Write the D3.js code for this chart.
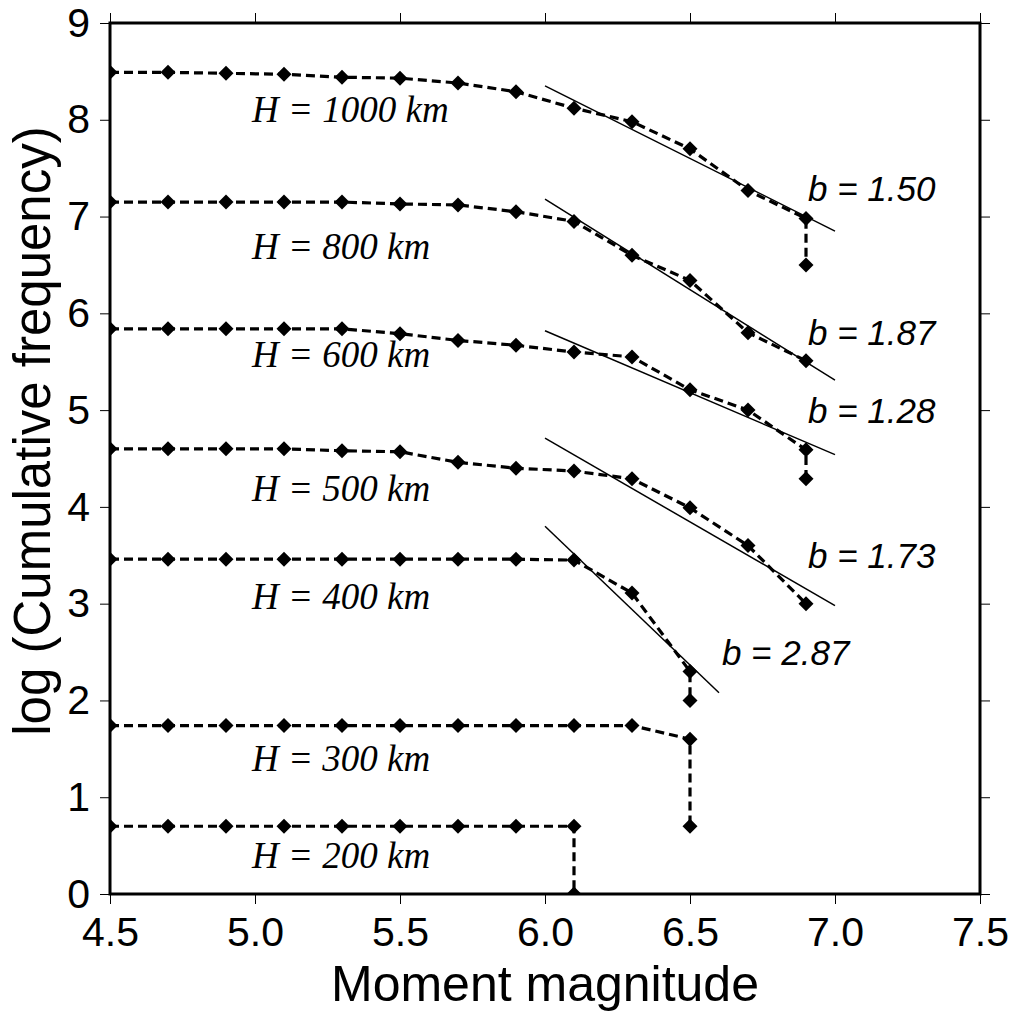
<!DOCTYPE html>
<html>
<head>
<meta charset="utf-8">
<script src="https://cdn.jsdelivr.net/npm/d3@7"></script>
<style>
  body { margin: 0; background: #fff; }
  .tick text { font-family: "Liberation Sans", Arial, sans-serif; font-size: 41px; fill: #000; }
</style>
</head>
<body>
<div id="chart"></div>
<script>
// magnitude bins (left edge of each cumulative bin)
var mags = [4.5, 4.7, 4.9, 5.1, 5.3, 5.5, 5.7, 5.9, 6.1, 6.3, 6.5, 6.7, 6.9];

var depths = ["1000", "800", "600", "500", "400", "300", "200"];

// log cumulative frequency per depth, one value per magnitude bin
var freq1000 = [8.49, 8.49, 8.48, 8.47, 8.44, 8.43, 8.38, 8.29, 8.12, 7.98, 7.70, 7.27, 6.98];
var freq800  = [7.15, 7.15, 7.15, 7.15, 7.15, 7.13, 7.12, 7.05, 6.95, 6.60, 6.34, 5.80, 5.51];
var freq600  = [5.84, 5.84, 5.84, 5.84, 5.84, 5.79, 5.72, 5.67, 5.60, 5.55, 5.21, 5.00, 4.59];
var freq500  = [4.60, 4.60, 4.60, 4.60, 4.58, 4.57, 4.46, 4.40, 4.37, 4.29, 3.99, 3.60, 3.00];
var freq400  = [3.46, 3.46, 3.46, 3.46, 3.46, 3.46, 3.46, 3.46, 3.45, 3.11, 2.30];
var freq300  = [1.74, 1.74, 1.74, 1.74, 1.74, 1.74, 1.74, 1.74, 1.74, 1.74, 1.60];
var freq200  = [0.70, 0.70, 0.70, 0.70, 0.70, 0.70, 0.70, 0.70, 0.70];

// value of the extra point dropped at the last magnitude (null = none)
var drops = [6.50, null, 4.29, null, 2.00, 0.70, 0.00];

// fitted Gutenberg-Richter lines: [m0, m1, logN0, logN1]
var fits = [
  [6.0, 7.0, 8.35, 6.85],
  [6.0, 7.0, 7.18, 5.31],
  [6.0, 7.0, 5.82, 4.54],
  [6.0, 7.0, 4.71, 2.98],
  [6.0, 6.6, 3.80, 2.08]
];
var bValues = ["1.50", "1.87", "1.28", "1.73", "2.87"];

var xTicks = [4.5, 5.0, 5.5, 6.0, 6.5, 7.0, 7.5];
var yTicks = [0, 1, 2, 3, 4, 5, 6, 7, 8, 9];

// label anchor points (data units)
var depthLabelPos = [[4.99, 7.98], [4.99, 6.56], [4.99, 5.45], [4.99, 4.06], [4.99, 2.94], [4.99, 1.27], [4.99, 0.27]];
var bLabelPos = [[6.907, 7.16], [6.907, 5.67], [6.907, 4.87], [6.907, 3.37], [6.61, 2.37]];

var allFreq = [freq1000, freq800, freq600, freq500, freq400, freq300, freq200];

var svgWidth = 1016;
var svgHeight = 1011;
var margin = { top: 23, right: 36, bottom: 117, left: 110 };
var width = svgWidth - margin.left - margin.right;
var height = svgHeight - margin.top - margin.bottom;

var svg = d3.select("#chart")
  .append("svg")
  .attr("width", svgWidth)
  .attr("height", svgHeight)
  .append("g")
  .attr("transform", "translate(" + margin.left + "," + margin.top + ")");

var x = d3.scaleLinear().domain([4.5, 7.5]).range([0, width]);
var y = d3.scaleLinear().domain([0, 9]).range([height, 0]);

svg.append("clipPath").attr("id", "plotclip")
  .append("rect").attr("width", width).attr("height", height);

var plot = svg.append("g").attr("clip-path", "url(#plotclip)");

// build point lists
var series = allFreq.map(function(vals, i) {
  var pts = vals.map(function(v, j) { return [mags[j], v]; });
  if (drops[i] !== null) pts.push([mags[vals.length - 1], drops[i]]);
  return pts;
});

var line = d3.line()
  .x(function(d) { return x(d[0]); })
  .y(function(d) { return y(d[1]); });

// fitted lines
plot.selectAll(".fit")
  .data(fits)
  .enter()
  .append("line")
  .attr("class", "fit")
  .attr("x1", function(d) { return x(d[0]); })
  .attr("x2", function(d) { return x(d[1]); })
  .attr("y1", function(d) { return y(d[2]); })
  .attr("y2", function(d) { return y(d[3]); })
  .attr("stroke", "#000")
  .attr("stroke-width", 1.5);

plot.selectAll(".series")
  .data(series)
  .enter()
  .append("path")
  .attr("class", "series")
  .attr("d", line)
  .attr("fill", "none")
  .attr("stroke", "#000")
  .attr("stroke-width", 3.2)
  .attr("stroke-dasharray", "9,5");

var diamond = "M0,-7.5L7.5,0L0,7.5L-7.5,0Z";
series.forEach(function(pts) {
  plot.selectAll(null)
    .data(pts)
    .enter()
    .append("path")
    .attr("d", diamond)
    .attr("transform", function(d) { return "translate(" + x(d[0]) + "," + y(d[1]) + ")"; })
    .attr("fill", "#000");
});

// axes
var bottomAxis = d3.axisBottom(x).tickValues(xTicks).tickFormat(d3.format(".1f")).tickSize(10).tickPadding(13);
var topAxis = d3.axisTop(x).tickValues(xTicks).tickFormat("").tickSize(10);
var leftAxis = d3.axisLeft(y).tickValues(yTicks).tickFormat(d3.format("d")).tickSize(10).tickPadding(10);
var rightAxis = d3.axisRight(y).tickValues(yTicks).tickFormat("").tickSize(10);

svg.append("g").attr("transform", "translate(0," + height + ")").call(bottomAxis);
svg.append("g").call(topAxis);
svg.append("g").call(leftAxis);
svg.append("g").attr("transform", "translate(" + width + ",0)").call(rightAxis);

svg.selectAll(".domain").remove();
svg.selectAll(".tick line").attr("stroke", "#000").attr("stroke-width", 1);

svg.append("rect")
  .attr("width", width)
  .attr("height", height)
  .attr("fill", "none")
  .attr("stroke", "#000")
  .attr("stroke-width", 3);

// depth labels
svg.selectAll(".hlabel")
  .data(depths)
  .enter()
  .append("text")
  .attr("class", "hlabel")
  .attr("x", function(d, i) { return x(depthLabelPos[i][0]); })
  .attr("y", function(d, i) { return y(depthLabelPos[i][1]); })
  .style("font-family", "'Liberation Serif', 'Times New Roman', serif")
  .style("font-style", "italic")
  .style("font-size", "37px")
  .text(function(d) { return "H = " + d + " km"; });

// b-value labels
svg.selectAll(".blabel")
  .data(bValues)
  .enter()
  .append("text")
  .attr("class", "blabel")
  .attr("x", function(d, i) { return x(bLabelPos[i][0]); })
  .attr("y", function(d, i) { return y(bLabelPos[i][1]); })
  .style("font-family", "'Liberation Sans', Arial, sans-serif")
  .style("font-style", "italic")
  .style("font-size", "35px")
  .text(function(d) { return "b = " + d; });

// axis titles
svg.append("text")
  .attr("x", width / 2)
  .attr("y", height + 107)
  .attr("text-anchor", "middle")
  .style("font-family", "'Liberation Sans', Arial, sans-serif")
  .style("font-size", "50px")
  .text("Moment magnitude");

svg.append("text")
  .attr("transform", "translate(" + (50 - margin.left) + "," + (431 - margin.top) + ") rotate(-90)")
  .attr("text-anchor", "middle")
  .style("font-family", "'Liberation Sans', Arial, sans-serif")
  .style("font-size", "51px")
  .text("log (Cumulative frequency)");
</script>
</body>
</html>
